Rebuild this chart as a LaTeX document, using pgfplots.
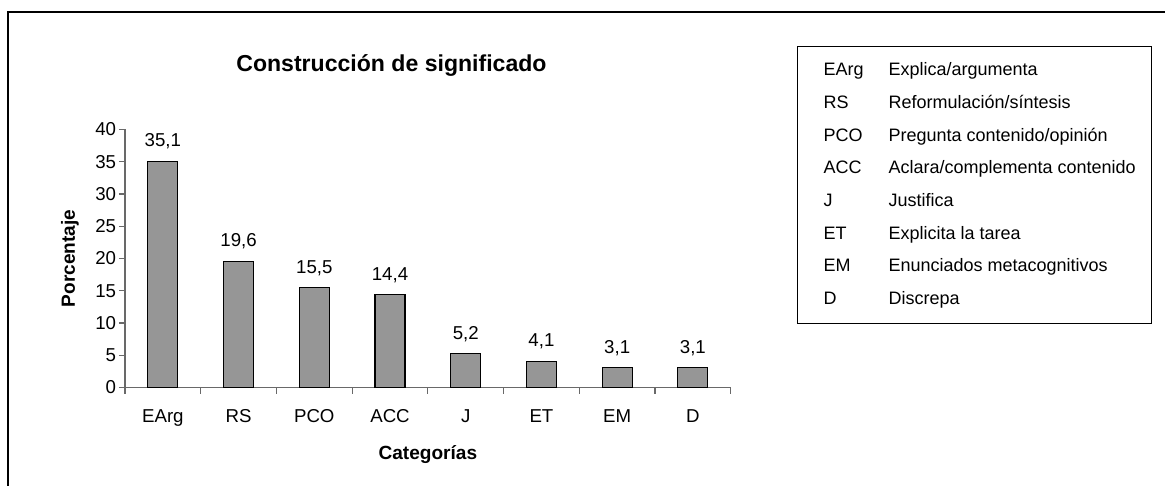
\documentclass[border=0pt]{standalone}
\usepackage{fontspec}
\setmainfont{Liberation Sans}
\usepackage{pgfplots}
\pgfplotsset{compat=1.18}
\definecolor{barg}{RGB}{150,150,150}
\definecolor{axg}{RGB}{105,105,105}
\begin{document}
\begin{tikzpicture}
\useasboundingbox (0,0) rectangle (873.75pt,364.5pt);
% outer frame (top and left edges visible)
\draw[line width=1pt] (6pt,0) -- (6pt,355.5pt) -- (880pt,355.5pt);
% title
\node[anchor=base, inner sep=0pt, font=\fontsize{17.3}{20}\selectfont\bfseries] at (293.6pt,310.7pt) {Construcción de significado};
\begin{axis}[
  at={(93.75pt,73.875pt)}, anchor=south west,
  scale only axis, width=454.3pt, height=193.5pt,
  xmin=-0.5, xmax=7.5, ymin=0, ymax=40,
  axis x line*=bottom, axis y line*=left,
  axis line style={axg, line width=0.8pt},
  tick style={axg, line width=0.8pt},
  tick align=outside, major tick length=4.5pt,
  xtick={-0.5,0.5,1.5,2.5,3.5,4.5,5.5,6.5,7.5},
  xticklabels={},
  extra x ticks={0,1,2,3,4,5,6,7},
  extra x tick labels={EArg,RS,PCO,ACC,J,ET,EM,D},
  extra x tick style={major tick length=0pt, xticklabel style={inner sep=0pt, anchor=north, yshift=-16.5pt}},
  ytick={0,5,...,40},
  yticklabel style={inner sep=0pt, anchor=east, xshift=-2pt},
  ticklabel style={font=\fontsize{14}{17}\selectfont},
  /pgf/number format/assume math mode=true,
  xlabel={Categorías},
  ylabel={Porcentaje},
  xlabel style={at={([yshift=-50.6pt]axis description cs:0.5,0)}, anchor=center, font=\fontsize{14.3}{17}\selectfont\bfseries},
  ylabel style={at={([xshift=-41.25pt]axis description cs:0,0.5)}, anchor=center, font=\fontsize{14.3}{17}\selectfont\bfseries},
  ybar, bar width=22.5pt,
  nodes near coords={\pgfmathprintnumber[fixed,fixed zerofill,precision=1,use comma,assume math mode=true]{\pgfplotspointmeta}},
  every node near coord/.append style={font=\fontsize{14}{17}\selectfont, anchor=south, inner sep=0pt, yshift=8.5pt, black},
  clip=false,
]
\addplot[fill=barg, draw=black, line width=0.8pt] coordinates {
  (0,35.1) (1,19.6) (2,15.5) (3,14.4) (4,5.2) (5,4.1) (6,3.1) (7,3.1)
};
\end{axis}
% legend box
\draw[line width=1pt] (598pt,122pt) rectangle (863.8pt,329.5pt);
\begin{scope}[every node/.style={anchor=base west, inner sep=0pt, font=\fontsize{13.5}{16}\selectfont}]
\node at (617.5pt,307.5pt) {EArg};   \node at (666.2pt,307.5pt) {Explica/argumenta};
\node at (617.5pt,283.0pt) {RS};     \node at (666.2pt,283.0pt) {Reformulación/síntesis};
\node at (617.5pt,258.5pt) {PCO};    \node at (666.2pt,258.5pt) {Pregunta contenido/opinión};
\node at (617.5pt,234.0pt) {ACC};    \node at (666.2pt,234.0pt) {Aclara/complementa contenido};
\node at (617.5pt,209.6pt) {J};      \node at (666.2pt,209.6pt) {Justifica};
\node at (617.5pt,185.1pt) {ET};     \node at (666.2pt,185.1pt) {Explicita la tarea};
\node at (617.5pt,160.6pt) {EM};     \node at (666.2pt,160.6pt) {Enunciados metacognitivos};
\node at (617.5pt,136.1pt) {D};      \node at (666.2pt,136.1pt) {Discrepa};
\end{scope}
\end{tikzpicture}
\end{document}
